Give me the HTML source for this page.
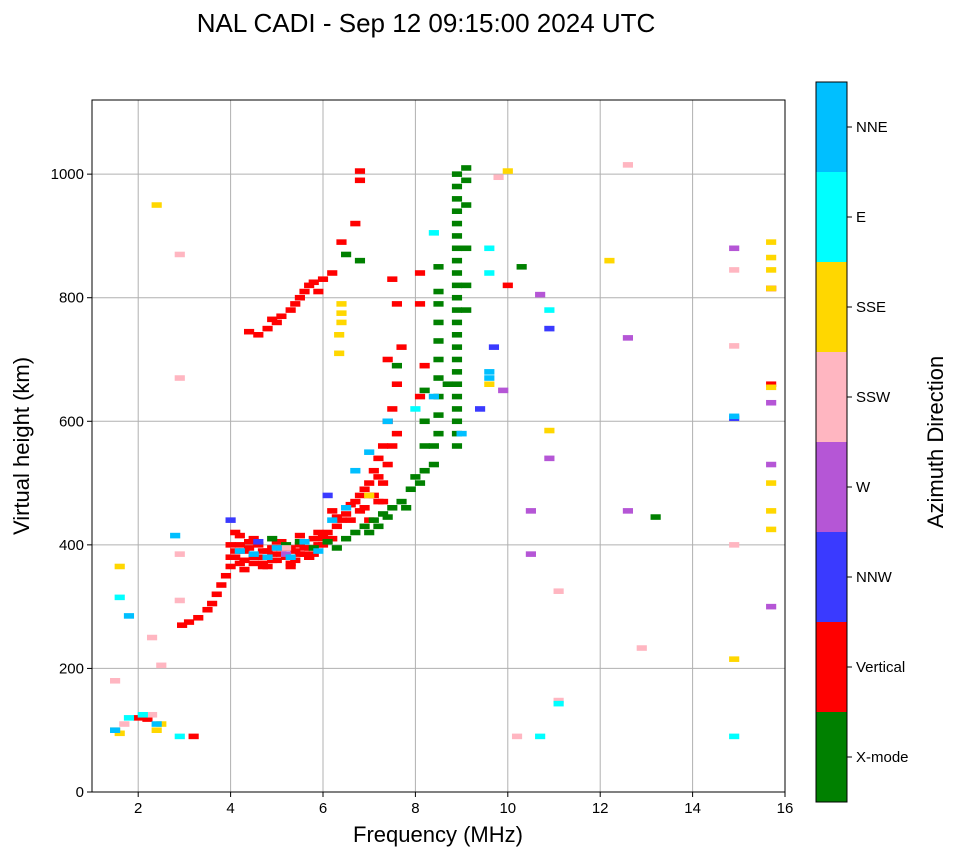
<!DOCTYPE html>
<html><head><meta charset="utf-8"><style>
body{margin:0;background:#fff;font-family:"Liberation Sans",sans-serif}
svg text{font-family:"Liberation Sans",sans-serif}
</style></head><body>
<svg id="chart" width="958" height="857" viewBox="0 0 958 857">
<text x="426" y="32" font-size="26" text-anchor="middle">NAL CADI - Sep 12 09:15:00 2024 UTC</text>
<g id="grid"></g>
<g id="marks"></g>
<rect x="92" y="100" width="693" height="692" fill="none" stroke="#000" stroke-width="1"/>
<g id="axes"></g>
<text x="438" y="842" font-size="22" text-anchor="middle">Frequency (MHz)</text>
<text transform="translate(29,446) rotate(-90)" font-size="22" text-anchor="middle">Virtual height (km)</text>
<g id="cbar"></g>
<text transform="translate(943,442) rotate(-90)" font-size="22" text-anchor="middle">Azimuth Direction</text>
</svg>
<script>
const dirNames=["X-mode","Vertical","NNW","W","SSW","SSE","E","NNE"];
const dirColors=["#008000","#ff0000","#3a3aff","#b556d6","#ffb6c1","#ffd700","#00ffff","#00bfff"];
const xTicks=[2,4,6,8,10,12,14,16];
const yTicks=[0,200,400,600,800,1000];
// Vertical (red)
const vertF=[2.95,3.1,3.3,3.5,3.6,3.7,3.8,3.9,4.0,4.0,4.1,4.2,4.2,4.3,4.4,4.5,4.6,4.7,4.8,4.9,5.0,5.1,5.2,5.3,5.4,5.5,5.6,5.7,5.8,5.9,6.0,6.1,6.3,6.5,6.7,6.8,6.9,7.0,7.1,7.2,7.3,7.4,7.5,7.6,7.4,7.7,7.6,7.5,8.1,8.1,8.2,8.1,
4.1,4.3,4.5,4.7,4.9,5.1,5.3,5.5,5.7,5.9,6.2,6.6,7.0,7.3,
4.4,4.6,4.8,4.9,5.0,5.1,5.3,5.4,5.5,5.6,5.7,5.8,5.9,6.0,6.2,6.4,6.7,6.8,6.8,
4.0,4.2,4.4,4.6,4.8,5.0,5.2,5.4,5.6,5.8,6.0,6.2,6.4,6.6,6.9,7.1,7.2,7.3,7.4,7.6,3.2,2.0,2.2,10.0,15.7,15.7,
4.1,4.3,4.5,4.7,4.9,5.1,5.3,5.5,5.7,6.0,6.3,6.8,7.0,7.2,7.5];
const vertH=[270,275,282,295,305,320,335,350,365,380,390,400,415,375,395,380,400,370,390,385,375,395,380,370,390,400,385,395,410,400,415,420,430,450,470,480,460,500,520,540,560,600,620,660,700,720,790,830,840,790,690,640,
420,360,410,365,395,405,365,415,380,420,455,440,480,470,
745,740,750,765,760,770,780,790,800,810,820,825,810,830,840,890,920,990,1005,
400,370,405,380,365,405,395,375,395,385,400,410,440,465,490,480,470,500,530,580,90,120,118,820,660,815,
380,390,370,390,375,385,395,385,380,410,445,455,440,510,560];
// X-mode (green)
const xmodeF=[6.5,6.7,6.9,7.1,7.3,7.5,7.7,7.9,8.0,8.2,8.4,8.4,8.5,8.5,8.5,8.5,8.5,8.5,8.5,8.5,8.5,8.5,
8.9,8.9,8.9,8.9,8.9,8.9,8.9,8.9,8.9,8.9,8.9,8.9,8.9,8.9,8.9,8.9,8.9,8.9,8.9,8.9,8.9,8.9,8.9,
9.1,9.1,9.1,9.1,9.1,9.1,8.2,8.2,8.2,
6.5,6.8,4.9,5.2,5.5,5.8,6.1,6.3,7.2,7.6,8.7,13.2,10.3,7.0,7.4,7.8,8.1];
const xmodeH=[410,420,430,440,450,460,470,490,510,520,530,560,580,610,640,670,700,730,760,790,810,850,
560,580,600,620,640,660,680,700,720,740,760,780,800,820,840,860,880,900,920,940,960,980,1000,
1010,990,950,880,820,780,650,600,560,
870,860,410,400,405,395,405,395,430,690,660,445,850,420,445,460,500];
// SSE (yellow)
const sseF=[6.35,6.35,6.4,6.4,6.4,1.5,1.6,2.4,2.5,1.6,2.4,10.0,12.2,10.9,14.9,15.7,15.7,15.7,15.7,15.7,15.7,15.7,15.7,9.6,7.0];
const sseH=[710,740,760,775,790,100,95,100,110,365,950,1005,860,585,215,890,865,845,815,655,500,455,425,660,480];
// SSW (pink)
const sswF=[1.7,2.3,2.9,2.9,9.8,12.6,14.9,14.9,14.9,11.1,12.9,10.2,2.3,2.9,2.9,2.5,1.5,5.2,11.1];
const sswH=[110,125,870,670,995,1015,845,722,400,325,233,90,250,385,310,205,180,395,148];
// W (purple)
const wF=[10.7,12.6,10.9,10.5,12.6,10.5,14.9,15.7,15.7,15.7,9.9,5.2];
const wH=[805,735,540,455,455,385,880,630,530,300,650,385];
// NNW (blue)
const nnwF=[10.9,14.9,4.6,6.1,9.7,9.4,4.0];
const nnwH=[750,605,405,480,720,620,440];
// E (cyan)
const eF=[14.9,10.7,11.1,1.8,2.9,2.1,1.6,8.0,9.6,9.6,10.9,8.4];
const eH=[90,90,143,120,90,125,315,620,880,840,780,905];
// NNE (deep sky blue)
const nneF=[4.2,4.5,4.8,5.0,5.3,5.6,5.9,6.2,6.5,6.7,7.0,7.4,8.4,9.0,9.6,1.8,2.8,1.5,2.4,9.6,14.9];
const nneH=[390,385,380,395,380,405,390,440,460,520,550,600,640,580,680,285,415,100,110,670,608];

const NS="http://www.w3.org/2000/svg";
const L=92,R=785,T=100,B=792;
function xs(f){return L+(f-1)/(16-1)*(R-L);}
function ys(h){return B-h/1120*(B-T);}
function mk(tag,attrs,parent){const e=document.createElementNS(NS,tag);for(const k in attrs)e.setAttribute(k,attrs[k]);parent.appendChild(e);return e;}
const grid=document.getElementById('grid'),axes=document.getElementById('axes'),marks=document.getElementById('marks'),cbar=document.getElementById('cbar');
xTicks.forEach(t=>{const x=xs(t);
 const g=mk('line',{x1:x,x2:x,y1:T,y2:B,stroke:'#b0b0b0','stroke-width':1},grid);
 
 
 const tk=mk('line',{x1:x,x2:x,y1:B,y2:B+5,stroke:'#000'},axes);
 
 
 const tx=mk('text',{x:x,y:B+21,'font-size':15,'text-anchor':'middle'},axes);tx.textContent=t;
 
 
});
yTicks.forEach(t=>{const y=ys(t);
 const g=mk('line',{x1:L,x2:R,y1:y,y2:y,stroke:'#b0b0b0','stroke-width':1},grid);
 
 
 const tk=mk('line',{x1:L-5,x2:L,y1:y,y2:y,stroke:'#000'},axes);
 
 
 const tx=mk('text',{x:L-8,y:y+5,'font-size':15,'text-anchor':'end'},axes);tx.textContent=t;
 
 
});
const w=0.22,hh=9;
function drawGroup(F,H,d,name){
 const n=Math.min(F.length,H.length);
 for(let i=0;i<n;i++){
  const x0=xs(F[i]-w/2),y0=ys(H[i]+hh/2);
  const r=mk('rect',{x:x0,y:y0,width:xs(F[i]+w/2)-x0,height:ys(H[i]-hh/2)-y0,fill:dirColors[d]},marks);
  
  
 }
}
drawGroup(vertF,vertH,1,'echo-vertical');
drawGroup(xmodeF,xmodeH,0,'echo-xmode');
drawGroup(sseF,sseH,5,'echo-sse');
drawGroup(sswF,sswH,4,'echo-ssw');
drawGroup(wF,wH,3,'echo-w');
drawGroup(nnwF,nnwH,2,'echo-nnw');
drawGroup(eF,eH,6,'echo-e');
drawGroup(nneF,nneH,7,'echo-nne');
const cx=816,cw=31,cT=82,cB=802,band=(cB-cT)/dirNames.length;
dirNames.forEach((n,i)=>{const y=cB-(i+1)*band;
 const r=mk('rect',{x:cx,y:y,width:cw,height:band,fill:dirColors[i]},cbar);
 
 
 const tk=mk('line',{x1:cx+cw,x2:cx+cw+5,y1:y+band/2,y2:y+band/2,stroke:'#000'},cbar);
 
 
 const tx=mk('text',{x:cx+cw+9,y:y+band/2+5,'font-size':15},cbar);tx.textContent=n;
 
 
});
const fr=mk('rect',{x:cx,y:cT,width:cw,height:cB-cT,fill:'none',stroke:'#000'},cbar);


</script>
</body></html>
